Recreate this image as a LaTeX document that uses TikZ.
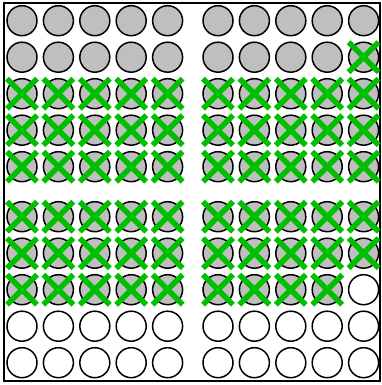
\documentclass[tikz,border=0pt]{standalone}
\usepackage{tikz}

\tikzset{
  ball/.style={draw=black, line width=1.5pt},
  cross/.style={draw={rgb,255:red,0;green,190;blue,0}, line width=5.5pt},
}

\begin{document}
\begin{tikzpicture}[x=1pt, y=-1pt]
\useasboundingbox (0,0) rectangle (382,385);
\draw[line width=1.2pt] (4,3) rectangle (380,381);

% four blocks: x0, y0, gray up to, crossed from
\foreach \bx/\by/\gmax/\cmin in {22/20.7/25/11, 218/20.7/25/10, 22/216.7/15/1, 218/216.7/14/1}{
\foreach \r in {1,...,5}{
\foreach \c in {1,...,5}{
  \pgfmathtruncatemacro{\k}{5*(\r-1)+\c}
  \pgfmathsetmacro{\px}{\bx+36.4*(\c-1)}
  \pgfmathsetmacro{\py}{\by+36.5*(\r-1)}
  \ifnum\k>\gmax
    \draw[ball, fill=white] (\px,\py) circle (15);
  \else
    \draw[ball, fill=black!25] (\px,\py) circle (15);
    \ifnum\k<\cmin\else
      \draw[cross] (\px-15,\py-15) -- (\px+15,\py+15);
      \draw[cross] (\px-15,\py+15) -- (\px+15,\py-15);
    \fi
  \fi
}
}
}
\end{tikzpicture}
\end{document}
